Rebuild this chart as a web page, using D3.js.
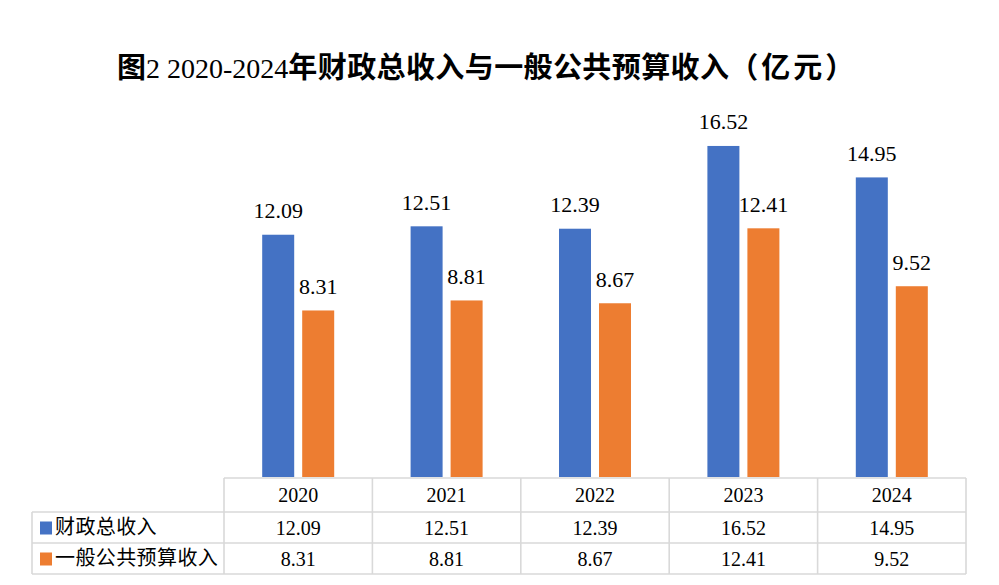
<!DOCTYPE html>
<html>
<head>
<meta charset="utf-8">
<script src="https://cdn.jsdelivr.net/npm/d3@7.9.0/dist/d3.min.js"></script>
<style>
  body { margin: 0; background: #fff; }
  svg { display: block; }
</style>
</head>
<body>
<svg id="chart" width="999" height="585"></svg>
<script>
const years = ["2020", "2021", "2022", "2023", "2024"];
const seriesNames = ["财政总收入", "一般公共预算收入"];
const totalRevenue = [12.09, 12.51, 12.39, 16.52, 14.95];
const budgetRevenue = [8.31, 8.81, 8.67, 12.41, 9.52];
const colors = ["#4472C4", "#ED7D31"];

const seriesValues = [totalRevenue, budgetRevenue];
const svg = d3.select("#chart");

const serif = "'Liberation Serif', 'Times New Roman', serif";
const cjk = "'Liberation Serif', 'Noto Sans CJK SC', sans-serif";

// title
const title = svg.append("text")
  .attr("x", 117)
  .attr("y", 78)
  .attr("fill", "#000");
title.append("tspan").attr("font-family", "'Noto Sans CJK SC'").attr("font-weight", 700).attr("font-size", 29).text("图");
title.append("tspan").attr("font-family", serif).attr("font-size", 28).text("2 2020-2024");
title.append("tspan").attr("font-family", "'Noto Sans CJK SC'").attr("font-weight", 700).attr("font-size", 29)
  .attr("letter-spacing", 0.4).text("年财政总收入与一般公共预算收入");
title.append("tspan").attr("font-family", "'Noto Sans CJK SC'").attr("font-weight", 700).attr("font-size", 29)
  .attr("letter-spacing", 3).text("（亿元）");

// scales
const x = d3.scaleBand().domain(years).range([224, 966]);
const xInner = d3.scaleBand().domain(seriesNames).range([0, x.bandwidth()])
  .paddingInner(0.2).paddingOuter(0.955);
const y = d3.scaleLinear().domain([0, 18]).range([477, 116.3]);

// bars
seriesNames.forEach((name, si) => {
  const g = svg.append("g");
  g.selectAll("rect")
    .data(years.map((yr, i) => ({ yr, v: seriesValues[si][i] })))
    .join("rect")
    .attr("x", d => x(d.yr) + xInner(name))
    .attr("y", d => y(d.v))
    .attr("width", xInner.bandwidth())
    .attr("height", d => y(0) - y(d.v))
    .attr("fill", colors[si]);
  g.selectAll("text")
    .data(years.map((yr, i) => ({ yr, v: seriesValues[si][i] })))
    .join("text")
    .attr("x", d => x(d.yr) + xInner(name) + xInner.bandwidth() / 2)
    .attr("y", d => y(d.v) - 16.5)
    .attr("text-anchor", "middle")
    .attr("font-family", serif)
    .attr("font-size", 22)
    .attr("fill", "#000")
    .text(d => d.v.toFixed(2));
});

// data table
const rowTop = [478, 512, 543, 574];
const tableLeft = 32, tableRight = x.range()[1];
const grid = svg.append("g").attr("stroke", "#d9d9d9").attr("stroke-width", 1.6).attr("fill", "none");
grid.append("line").attr("x1", x.range()[0]).attr("x2", tableRight).attr("y1", rowTop[0]).attr("y2", rowTop[0]);
rowTop.slice(1).forEach(ry => {
  grid.append("line").attr("x1", tableLeft).attr("x2", tableRight).attr("y1", ry).attr("y2", ry);
});
grid.append("line").attr("x1", tableLeft).attr("x2", tableLeft).attr("y1", rowTop[1]).attr("y2", rowTop[3]);
years.concat(["end"]).forEach((yr, i) => {
  const vx = i < years.length ? x(yr) : tableRight;
  grid.append("line").attr("x1", vx).attr("x2", vx).attr("y1", rowTop[0]).attr("y2", rowTop[3]);
});

// header
svg.append("g").selectAll("text")
  .data(years)
  .join("text")
  .attr("x", d => x(d) + x.bandwidth() / 2)
  .attr("y", 502)
  .attr("text-anchor", "middle")
  .attr("font-family", serif)
  .attr("font-size", 20)
  .attr("fill", "#000")
  .text(d => d);

// series rows
const baselines = [534.5, 565.5];
seriesNames.forEach((name, si) => {
  const ry = baselines[si];
  svg.append("rect")
    .attr("x", 40).attr("y", ry - 13)
    .attr("width", 12).attr("height", 13)
    .attr("fill", colors[si]);
  svg.append("text")
    .attr("x", 55).attr("y", ry - 1)
    .attr("font-family", cjk)
    .attr("font-size", 20)
    .attr("letter-spacing", 0.4)
    .attr("fill", "#000")
    .text(name);
  svg.append("g").selectAll("text")
    .data(years.map((yr, i) => ({ yr, v: seriesValues[si][i] })))
    .join("text")
    .attr("x", d => x(d.yr) + x.bandwidth() / 2)
    .attr("y", ry)
    .attr("text-anchor", "middle")
    .attr("font-family", serif)
    .attr("font-size", 20)
    .attr("fill", "#000")
    .text(d => d.v.toFixed(2));
});
</script>
</body>
</html>
